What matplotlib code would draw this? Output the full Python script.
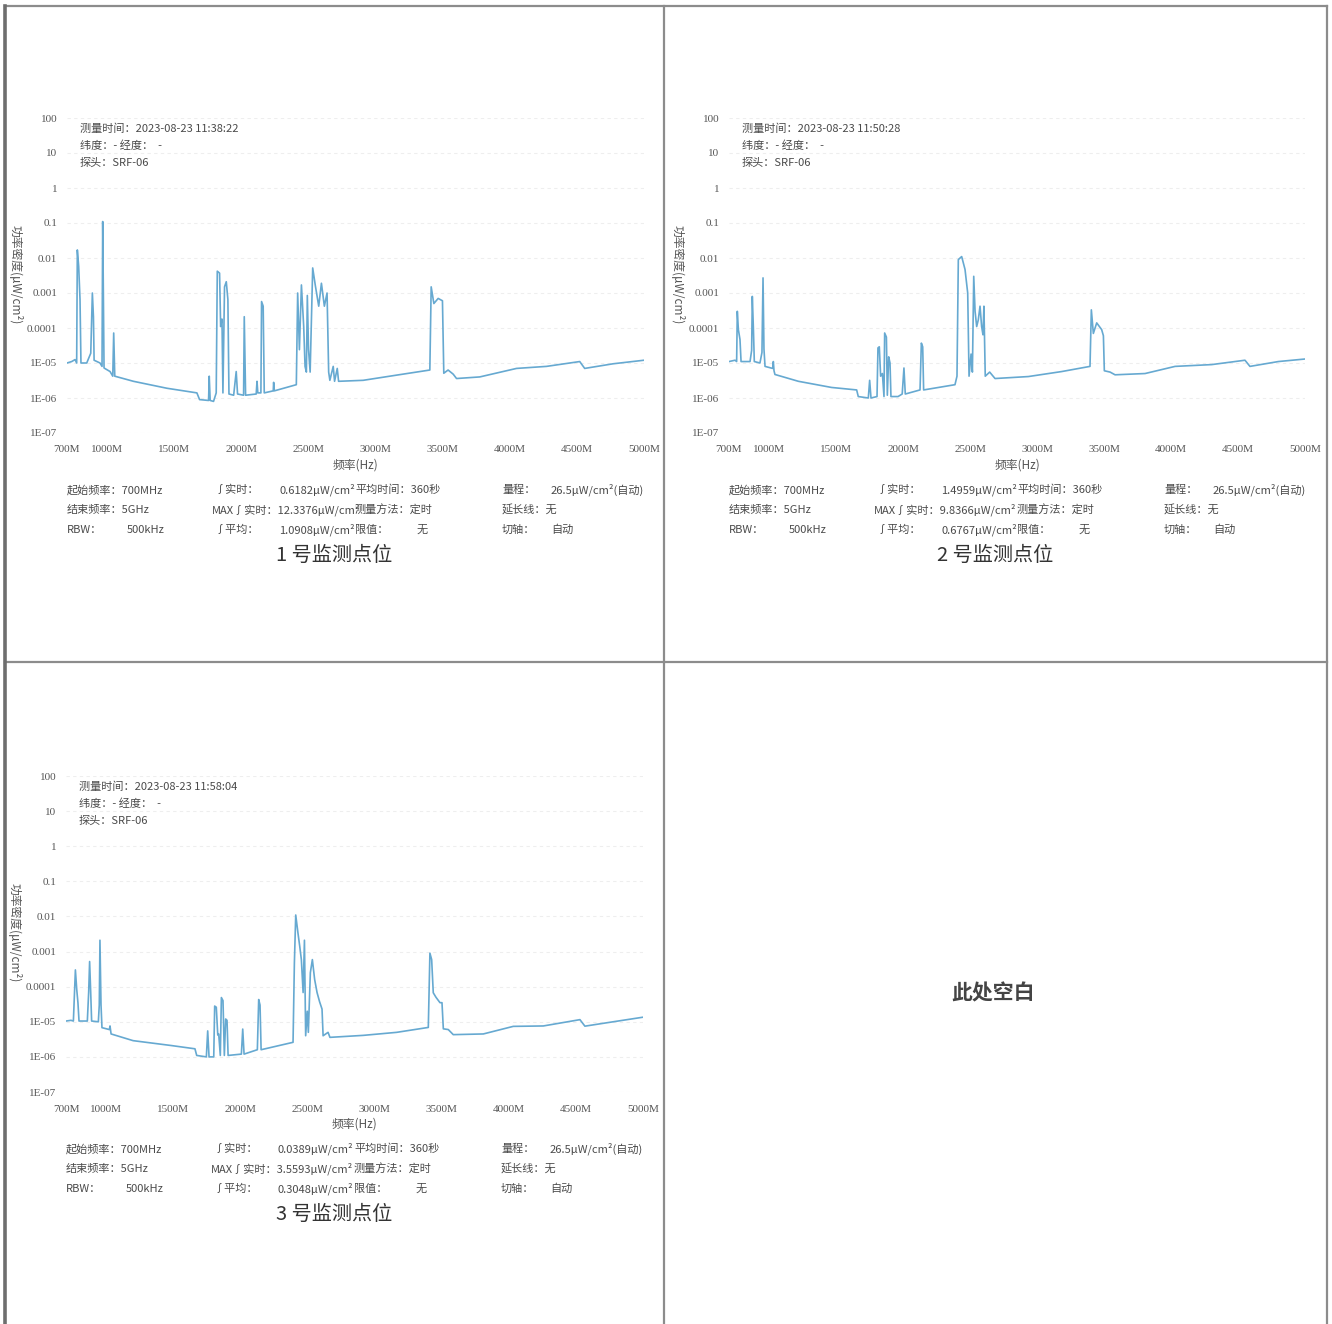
import matplotlib
matplotlib.use("Agg")
import matplotlib.pyplot as plt
from matplotlib.lines import Line2D
from matplotlib.ticker import NullLocator

# ---------------- data ----------------
x_ticks = [700, 1000, 1500, 2000, 2500, 3000, 3500, 4000, 4500, 5000]
x_tick_labels = ["700M", "1000M", "1500M", "2000M", "2500M", "3000M", "3500M", "4000M", "4500M", "5000M"]
y_ticks = [1e-7, 1e-6, 1e-5, 1e-4, 1e-3, 1e-2, 1e-1, 1, 10, 100]
y_tick_labels = ["1E-07", "1E-06", "1E-05", "0.0001", "0.001", "0.01", "0.1", "1", "10", "100"]

site1_freq = [700, 735, 760, 772, 777, 787, 797, 804, 847, 877, 889, 897, 902, 946, 961, 966, 971, 976,
              1021, 1041, 1048, 1056, 1195, 1444, 1668, 1688, 1755, 1760, 1767, 1792, 1812, 1820, 1837,
              1845, 1855, 1862, 1874, 1887, 1899, 1907, 1942, 1961, 1971, 2016, 2021, 2031, 2110, 2116,
              2122, 2145, 2150, 2162, 2170, 2237, 2240, 2245, 2409, 2419, 2432, 2447, 2464, 2474, 2484,
              2491, 2500, 2512, 2531, 2551, 2576, 2596, 2618, 2638, 2650, 2659, 2684, 2694, 2714, 2724,
              2907, 3156, 3404, 3414, 3434, 3466, 3498, 3508, 3540, 3578, 3603, 3776, 4050, 4273, 4521,
              4558, 4770, 5000]
site1_power = [1.0e-5, 1.1e-5, 1.25e-5, 1.0e-5, 1.7e-2, 5.8e-3, 6.5e-4, 1.0e-5, 1.0e-5, 1.9e-5, 1.0e-3,
               2.1e-4, 1.2e-5, 1.0e-5, 8.0e-6, 1.1e-1, 1.0e-3, 7.2e-6, 5.7e-6, 4.2e-6, 7.2e-5, 4.2e-6,
               3.0e-6, 1.9e-6, 1.4e-6, 9.0e-7, 8.5e-7, 4.2e-6, 8.5e-7, 8.0e-7, 1.4e-6, 4.2e-3, 3.7e-3,
               1.1e-4, 1.8e-4, 1.4e-6, 1.5e-3, 2.1e-3, 6.5e-4, 1.3e-6, 1.2e-6, 5.7e-6, 1.3e-6, 1.2e-6,
               2.1e-4, 1.2e-6, 1.3e-6, 3.0e-6, 1.4e-6, 1.4e-6, 5.7e-4, 4.2e-4, 1.4e-6, 1.6e-6, 2.8e-6,
               1.6e-6, 2.4e-6, 1.0e-3, 2.4e-5, 1.7e-3, 1.1e-4, 8.0e-6, 5.5e-6, 8.5e-4, 2.4e-5, 5.5e-6,
               5.2e-3, 1.6e-3, 4.2e-4, 1.9e-3, 4.2e-4, 1.0e-3, 5.5e-6, 3.2e-6, 8.0e-6, 3.0e-6, 7.0e-6,
               3.0e-6, 3.2e-6, 4.5e-6, 6.3e-6, 1.5e-3, 5.0e-4, 7.0e-4, 6.0e-4, 5.1e-6, 6.3e-6, 4.8e-6,
               3.6e-6, 4.0e-6, 7.0e-6, 8.0e-6, 1.1e-5, 7.0e-6, 9.5e-6, 1.2e-5]

site2_freq = [700, 745, 757, 762, 770, 782, 790, 857, 869, 874, 882, 889, 931, 946, 954, 961, 969, 1026,
              1031, 1036, 1043, 1218, 1466, 1653, 1665, 1740, 1750, 1760, 1805, 1812, 1822, 1832, 1845,
              1857, 1862, 1875, 1882, 1892, 1902, 1909, 1962, 1993, 2006, 2016, 2126, 2136, 2146, 2153,
              2387, 2402, 2412, 2437, 2462, 2482, 2492, 2507, 2517, 2527, 2537, 2549, 2561, 2574, 2586,
              2596, 2603, 2613, 2646, 2686, 2935, 3184, 3395, 3405, 3420, 3445, 3482, 3495, 3502, 3545,
              3582, 3806, 4030, 4303, 4552, 4589, 4801, 5000]
site2_power = [1.1e-5, 1.2e-5, 1.1e-5, 3.0e-4, 9.0e-5, 4.7e-5, 1.1e-5, 1.1e-5, 2.3e-5, 8.0e-4, 1.0e-4,
               1.1e-5, 1.0e-5, 2.0e-5, 2.7e-3, 2.5e-5, 8.0e-6, 7.0e-6, 1.1e-5, 6.0e-6, 4.7e-6, 3.0e-6,
               2.0e-6, 1.7e-6, 1.1e-6, 1.0e-6, 3.2e-6, 1.0e-6, 1.1e-6, 2.7e-5, 2.9e-5, 4.2e-6, 5.0e-6,
               1.1e-6, 7.2e-5, 5.5e-5, 1.2e-6, 1.5e-5, 1.0e-5, 1.1e-6, 1.1e-6, 1.3e-6, 7.2e-6, 1.3e-6,
               1.7e-6, 3.7e-5, 2.9e-5, 1.7e-6, 2.4e-6, 4.2e-6, 9.0e-3, 1.1e-2, 4.7e-3, 1.0e-3, 4.2e-6,
               1.8e-5, 5.5e-6, 3.0e-3, 3.0e-4, 1.1e-4, 1.7e-4, 4.2e-4, 1.1e-4, 6.4e-5, 4.2e-4, 4.2e-6,
               5.5e-6, 3.6e-6, 4.1e-6, 5.7e-6, 8.0e-6, 3.3e-4, 7.0e-5, 1.4e-4, 9.0e-5, 6.0e-5, 6.0e-6,
               5.5e-6, 4.6e-6, 5.0e-6, 8.0e-6, 9.0e-6, 1.2e-5, 8.0e-6, 1.1e-5, 1.3e-5]

site3_freq = [700, 737, 755, 770, 780, 789, 797, 859, 869, 876, 884, 891, 941, 948, 953, 961, 968, 1023,
              1028, 1036, 1200, 1487, 1661, 1674, 1746, 1756, 1766, 1801, 1808, 1820, 1831, 1838, 1850,
              1858, 1870, 1880, 1890, 1900, 1908, 2007, 2017, 2027, 2126, 2136, 2146, 2154, 2392, 2402,
              2412, 2429, 2442, 2454, 2467, 2477, 2486, 2498, 2506, 2521, 2536, 2553, 2571, 2590, 2608,
              2616, 2653, 2667, 2915, 3164, 3400, 3412, 3425, 3437, 3457, 3487, 3502, 3512, 3549, 3586,
              3810, 4033, 4257, 4530, 4567, 4778, 5000]
site3_power = [1.05e-5, 1.1e-5, 1.05e-5, 3.0e-4, 8.3e-5, 3.5e-5, 1.05e-5, 1.05e-5, 7.0e-5, 5.2e-4, 7.0e-5,
               1.05e-5, 1.0e-5, 3.0e-5, 2.1e-3, 3.0e-5, 6.8e-6, 6.0e-6, 7.6e-6, 4.5e-6, 2.9e-6, 2.1e-6,
               1.7e-6, 1.1e-6, 1.0e-6, 5.5e-6, 1.0e-6, 1.0e-6, 2.8e-5, 2.6e-5, 4.2e-6, 4.5e-6, 1.1e-6,
               4.9e-5, 4.0e-5, 1.1e-6, 1.2e-5, 1.1e-5, 1.1e-6, 1.2e-6, 6.2e-6, 1.2e-6, 1.6e-6, 4.3e-5,
               3.0e-5, 1.6e-6, 2.6e-6, 4.7e-4, 1.1e-2, 3.3e-3, 1.4e-3, 5.9e-4, 6.8e-5, 2.1e-3, 4.0e-6,
               2.0e-5, 5.0e-6, 2.5e-4, 5.9e-4, 1.6e-4, 6.8e-5, 3.7e-5, 2.3e-5, 4.0e-6, 5.0e-6, 3.6e-6,
               4.1e-6, 5.0e-6, 6.9e-6, 9.0e-4, 5.9e-4, 6.7e-5, 5.0e-5, 3.5e-5, 3.5e-5, 6.3e-6, 6.0e-6,
               4.3e-6, 4.5e-6, 7.4e-6, 7.6e-6, 1.15e-5, 7.5e-6, 1.0e-5, 1.35e-5]

site_titles = ["1 号监测点位", "2 号监测点位", "3 号监测点位"]
site_times = ["2023-08-23 11:38:22", "2023-08-23 11:50:28", "2023-08-23 11:58:04"]
site_realtime = ["0.6182", "1.4959", "0.0389"]
site_max = ["12.3376", "9.8366", "3.5593"]
site_avg = ["1.0908", "0.6767", "0.3048"]

# ---------------- figure ----------------
W, H = 1332, 1324
fig = plt.figure(figsize=(W / 100, H / 100), dpi=100)
fig.patch.set_facecolor("white")

CJK = ["Noto Sans CJK SC", "DejaVu Sans"]
SERIF = ["Liberation Serif", "DejaVu Serif"]
LINE_C = "#66a9d1"
TXT_C = "#4a4a4a"


def fx(px):
    return px / W


def fy(py):
    return 1 - py / H


def ftext(px, py, s, **kw):
    kw.setdefault("family", CJK)
    kw.setdefault("color", TXT_C)
    kw.setdefault("fontsize", 8)
    kw.setdefault("va", "center")
    kw.setdefault("ha", "left")
    fig.text(fx(px), fy(py), s, **kw)


# panel boxes: (left, top, right, bottom) of plot area in pixels
boxes = [(67, 118, 644, 433), (729, 118, 1305, 433), (66, 776, 643, 1092)]
series = [(site1_freq, site1_power), (site2_freq, site2_power), (site3_freq, site3_power)]
cell_centers = [334, 995, 334]

for i, ((l, t, r, b), (fr, pw)) in enumerate(zip(boxes, series)):
    ax = fig.add_axes([fx(l), fy(b), (r - l) / W, (b - t) / H])
    ax.set_facecolor("white")
    ax.set_yscale("log")
    ax.plot(fr, pw, color=LINE_C, lw=1.2)
    ax.set_xlim(700, 5000)
    ax.set_ylim(1e-7, 100)
    ax.set_yticks(y_ticks)
    ax.set_yticklabels(y_tick_labels)
    ax.yaxis.set_minor_locator(NullLocator())
    ax.set_xticks(x_ticks)
    ax.set_xticklabels(x_tick_labels)
    for lab in ax.get_xticklabels() + ax.get_yticklabels():
        lab.set_family(SERIF)
        lab.set_fontsize(8)
        lab.set_color("#555555")
    ax.tick_params(axis="both", length=0)
    ax.tick_params(axis="y", pad=7)
    ax.tick_params(axis="x", pad=9)
    for sp in ax.spines.values():
        sp.set_visible(False)
    ax.grid(axis="y", color="#eeeeee", lw=0.8, ls=(0, (3, 3)))
    ax.set_axisbelow(True)

    # header text inside plot
    ftext(l + 13, t + 11, "测量时间：" + site_times[i])
    ftext(l + 13, t + 28, "纬度：- 经度：  -")
    ftext(l + 13, t + 45, "探头：SRF-06")

    # y label
    ftext(l - 51, (t + b) / 2 - 1, "功率密度(μW/cm²)", rotation=-90, ha="center", fontsize=8.5,
          color="#555555")

    # x label
    ftext((l + r) / 2, b + 32, "频率(Hz)", ha="center", fontsize=8.5, color="#555555")

    # info rows
    r1, r2, r3 = b + 57, b + 77, b + 97
    ftext(l, r1, "起始频率：700MHz")
    ftext(l, r2, "结束频率：5GHz")
    ftext(l, r3, "RBW：")
    ftext(l + 60, r3, "500kHz")
    ftext(l + 147, r1, "∫实时：")
    ftext(l + 212, r1, site_realtime[i] + "μW/cm²")
    ftext(l + 145, r2, "MAX∫实时：" + site_max[i] + "μW/cm²")
    ftext(l + 147, r3, "∫平均：")
    ftext(l + 212, r3, site_avg[i] + "μW/cm²")
    ftext(l + 288, r1, "平均时间：360秒")
    ftext(l + 288, r2, "测量方法：定时")
    ftext(l + 288, r3, "限值：")
    ftext(l + 350, r3, "无")
    ftext(l + 435, r1, "量程：")
    ftext(l + 484, r1, "26.5μW/cm²(自动)")
    ftext(l + 435, r2, "延长线：无")
    ftext(l + 435, r3, "切轴：")
    ftext(l + 484, r3, "自动")

    # site title
    ftext(cell_centers[i], b + 122, site_titles[i], ha="center", fontsize=14.5, color="#333333")

# empty cell text
ftext(993, 993, "此处空白", ha="center", fontsize=15, fontweight="bold", color="#444444")

# cell borders
def fline(x0, y0, x1, y1, c="#8c8c8c", lw=1.6):
    fig.add_artist(Line2D([fx(x0), fx(x1)], [fy(y0), fy(y1)], transform=fig.transFigure,
                          color=c, lw=lw))

fline(5, 6, 1327, 6)
fline(5, 662, 1327, 662)
fline(664, 6, 664, 1324)
fline(1327, 6, 1327, 1324)
fline(5, 6, 5, 1324, c="#6e6e6e", lw=2.6)

fig.savefig("out.png", dpi=100, facecolor="white")
